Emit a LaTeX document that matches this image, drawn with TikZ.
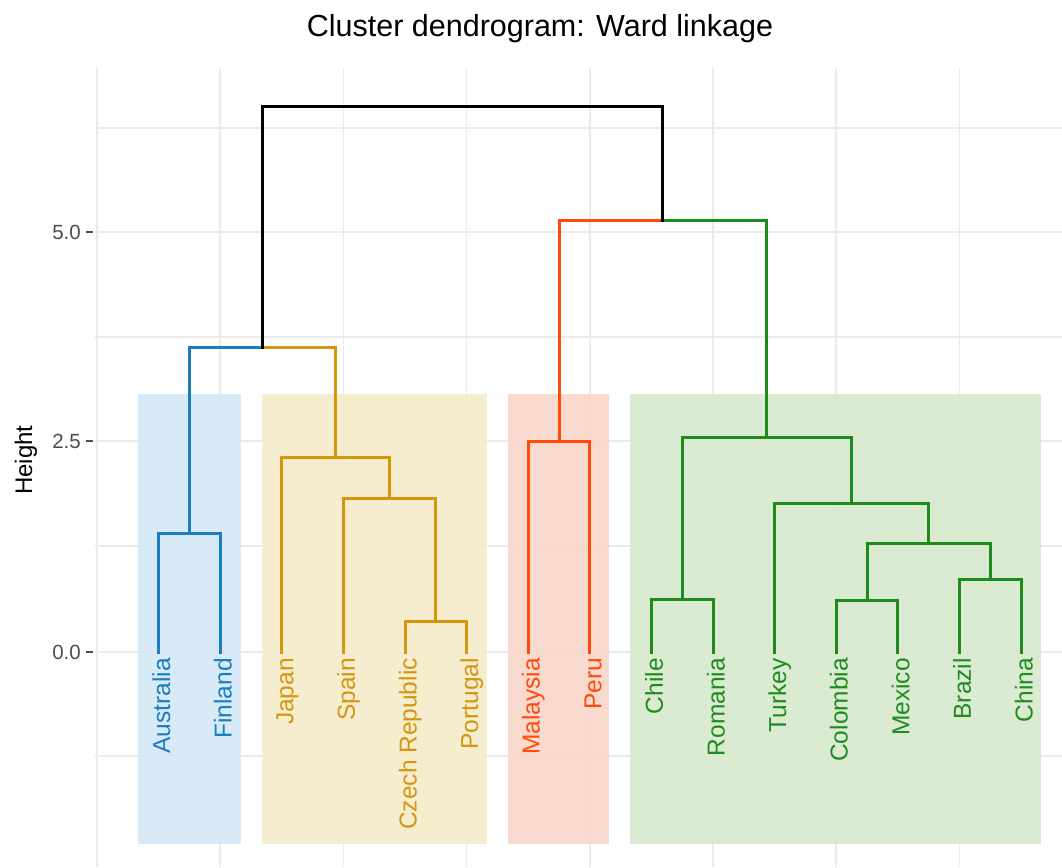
\documentclass[tikz,border=0pt]{standalone}
\usepackage{fontspec}
\setmainfont{Liberation Sans}
\definecolor{cblue}{HTML}{1B7DC2}
\definecolor{corange}{HTML}{D4960F}
\definecolor{cred}{HTML}{FF4A0A}
\definecolor{cgreen}{HTML}{1F8B1F}
\definecolor{fblue}{HTML}{D3E8F4}
\definecolor{fyellow}{HTML}{F4ECC9}
\definecolor{fred}{HTML}{F8D6C9}
\definecolor{fgreen}{HTML}{D6E9CD}
\definecolor{gridc}{HTML}{EBEBEB}
\definecolor{tickc}{HTML}{4D4D4D}
\begin{document}
\begin{tikzpicture}[x=1pt,y=-1pt,
  gridline/.style={draw=gridc,line width=1.5pt},
  clusterbox/.style={fill opacity=0.9,draw=none},
  branch/.style={line width=3pt,line cap=rect},
  leaflabel/.style={rotate=90,anchor=base east,inner sep=0pt,font=\fontsize{24.5}{29}\selectfont},
  ticklabel/.style={anchor=east,inner sep=0pt,text=tickc,font=\fontsize{20.5}{24}\selectfont}]
\useasboundingbox (0,0) rectangle (1062,867);
\fill[white] (0,0) rectangle (1062,867);
% grid
\foreach \yy in {128,232,337,441,546,652,756}
  \draw[gridline] (95,\yy) -- (1062,\yy);
\foreach \i in {0,2,...,14}
  \draw[gridline] ({97+61.6*\i},68) -- ({97+61.6*\i},867);
% cluster rectangles
\fill[fblue,clusterbox] (138,394) rectangle (241,844);
\fill[fyellow,clusterbox] (262,394) rectangle (487,844);
\fill[fred,clusterbox] (508,394) rectangle (609,844);
\fill[fgreen,clusterbox] (630,394) rectangle (1041,844);
% axis
\foreach \yy/\lab in {232/5.0,441/2.5,652/0.0}{
  \draw[tickc,line width=1.4pt] (86,\yy) -- (93,\yy);
  \node[ticklabel] at (81,\yy) {\lab};
}
\node[rotate=90,anchor=base,inner sep=0pt,font=\fontsize{24}{29}\selectfont] (ylab) at (32,460) {Height};
\node[anchor=base,inner sep=0pt,font=\fontsize{30.5}{36}\selectfont] (title) at (540,37) {Cluster dendrogram: Ward linkage};
% leaves
\foreach \i/\nm in {1/Aus,2/Fin,3/Jap,4/Spa,5/Cze,6/Por,7/Mal,8/Per,9/Chi,10/Rom,11/Tur,12/Col,13/Mex,14/Bra,15/Chn}
  \coordinate (\nm) at ({97+61.6*\i},652);
% merge points
\coordinate (mAF) at ({97+61.6*1.5},533);
\coordinate (mCP) at ({97+61.6*5.5},621);
\coordinate (mSCP) at ({97+61.6*4.75},498);
\coordinate (mJ) at ({97+61.6*3.875},457);
\coordinate (mL) at ({97+61.6*2.6875},347);
\coordinate (mMP) at ({97+61.6*7.5},441);
\coordinate (mCR) at ({97+61.6*9.5},599);
\coordinate (mCM) at ({97+61.6*12.5},600);
\coordinate (mBC) at ({97+61.6*14.5},579);
\coordinate (mCMBC) at ({97+61.6*13.5},543);
\coordinate (mT) at ({97+61.6*12.25},503);
\coordinate (mG) at ({97+61.6*10.875},437);
\coordinate (mR) at ({97+61.6*9.1875},220);
\coordinate (mTop) at ({97+61.6*5.9375},106);
% blue cluster
\draw[branch,cblue] (Aus) |- (mAF) -| (Fin);
\draw[branch,cblue] (mAF) |- (mL);
% orange cluster
\draw[branch,corange] (Cze) |- (mCP) -| (Por);
\draw[branch,corange] (Spa) |- (mSCP) -| (mCP);
\draw[branch,corange] (Jap) |- (mJ) -| (mSCP);
\draw[branch,corange] (mL) -| (mJ);
% red cluster
\draw[branch,cred] (Mal) |- (mMP) -| (Per);
\draw[branch,cred] (mMP) |- (mR);
% green cluster
\draw[branch,cgreen] (Chi) |- (mCR) -| (Rom);
\draw[branch,cgreen] (Col) |- (mCM) -| (Mex);
\draw[branch,cgreen] (Bra) |- (mBC) -| (Chn);
\draw[branch,cgreen] (mCM) |- (mCMBC) -| (mBC);
\draw[branch,cgreen] (Tur) |- (mT) -| (mCMBC);
\draw[branch,cgreen] (mCR) |- (mG) -| (mT);
\draw[branch,cgreen] (mR) -| (mG);
% top
\draw[branch,black] (mL) |- (mTop) -| (mR);
% labels
\foreach \nm/\txt/\col in {Aus/Australia/cblue,Fin/Finland/cblue,Jap/Japan/corange,Spa/Spain/corange,Cze/Czech Republic/corange,Por/Portugal/corange,Mal/Malaysia/cred,Per/Peru/cred,Chi/Chile/cgreen,Rom/Romania/cgreen,Tur/Turkey/cgreen,Col/Colombia/cgreen,Mex/Mexico/cgreen,Bra/Brazil/cgreen,Chn/China/cgreen}
  \node[leaflabel,text=\col] (lab\nm) at ([xshift=11.5pt,yshift=-6pt]\nm) {\txt};
\end{tikzpicture}
\end{document}
